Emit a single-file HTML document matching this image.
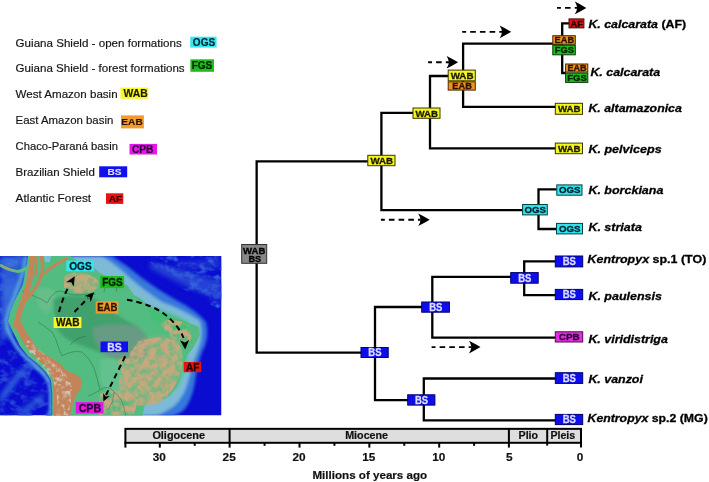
<!DOCTYPE html><html><head><meta charset="utf-8"><style>
html,body{margin:0;padding:0;background:#fff;}
body{width:709px;height:482px;overflow:hidden;position:relative;font-family:"Liberation Sans", sans-serif;}
svg{position:absolute;left:0;top:0;filter:blur(0.3px);}
text{font-family:"Liberation Sans", sans-serif;}
</style></head><body>
<svg width="709" height="482" viewBox="0 0 709 482">
<defs>
<clipPath id="mc"><rect x="0" y="256" width="221.5" height="159.5"/></clipPath>
<filter id="bl" x="-10%" y="-10%" width="120%" height="120%"><feGaussianBlur stdDeviation="0.6"/></filter>
<filter id="bl2" x="-20%" y="-20%" width="140%" height="140%"><feGaussianBlur stdDeviation="1.5"/></filter>
<filter id="mottle" x="0" y="0" width="1" height="1" color-interpolation-filters="sRGB">
  <feTurbulence type="fractalNoise" baseFrequency="0.16" numOctaves="3" seed="7" result="n"/>
  <feColorMatrix in="n" type="matrix" values="0 0 0 0 0.78  0 0 0 0 0.66  0 0 0 0 0.49  3.2 0 0 0 -1.0" result="c"/>
  <feComposite in="c" in2="SourceGraphic" operator="in" result="d"/>
  <feGaussianBlur in="d" stdDeviation="0.4"/>
</filter>
<filter id="mottle2" x="0" y="0" width="1" height="1" color-interpolation-filters="sRGB">
  <feTurbulence type="fractalNoise" baseFrequency="0.22" numOctaves="3" seed="11" result="n"/>
  <feColorMatrix in="n" type="matrix" values="0 0 0 0 0.82  0 0 0 0 0.76  0 0 0 0 0.72  3.5 0 0 0 -1.6" result="c"/>
  <feComposite in="c" in2="SourceGraphic" operator="in" result="d"/>
  <feGaussianBlur in="d" stdDeviation="0.35"/>
</filter>
<filter id="mottle3" x="0" y="0" width="1" height="1" color-interpolation-filters="sRGB">
  <feTurbulence type="fractalNoise" baseFrequency="0.09 0.14" numOctaves="3" seed="3" result="n"/>
  <feColorMatrix in="n" type="matrix" values="0 0 0 0 0.20  0 0 0 0 0.38  0 0 0 0 0.86  3.5 0 0 0 -1.6" result="c"/>
  <feComposite in="c" in2="SourceGraphic" operator="in" result="d"/>
  <feGaussianBlur in="d" stdDeviation="0.6"/>
</filter>
<filter id="bl3" x="-20%" y="-20%" width="140%" height="140%"><feGaussianBlur stdDeviation="2.5"/></filter>
</defs>
<g clip-path="url(#mc)">
<rect x="0" y="256" width="221.5" height="159.5" fill="#0a0cd0"/>
<g filter="url(#bl3)">
<!-- Caribbean + north Pacific mid-blue -->
<path d="M0,256 L32,256 L30,272 L24,290 L17,305 L12,320 L14,334 L0,342 Z" fill="#2a52d6"/>
<path d="M6,276 Q16,274 22,284 Q18,300 12,312 Q6,318 4,300 Z" fill="#3466da" opacity="0.8"/>
<path d="M2,258 L22,258 L16,266 L4,268 Z" fill="#3a78dc"/>
<path d="M3,285 Q10,282 14,290 Q10,300 5,300 Z" fill="#3a74dc" opacity="0.8"/>
<path d="M4,305 Q8,300 10,310 Q7,318 3,314 Z" fill="#3a74dc" opacity="0.7"/>
<!-- Atlantic NE patches -->
<path d="M150,262 Q170,266 190,272 L221,282 L221,300 Q205,294 190,288 Q168,278 150,268 Z" fill="#2a50d6" opacity="0.8"/>
<path d="M175,260 Q195,262 210,258 L221,258 L221,268 Q200,270 180,266 Z" fill="#2a50d6" opacity="0.5"/>
<!-- south Pacific ridges -->
<path d="M28,368 Q20,378 10,392 Q4,400 0,404 L0,396 Q10,380 24,366 Z" fill="#2f66d8"/>
<path d="M44,392 Q36,398 28,404 Q20,410 14,416 L24,416 Q34,408 44,398 Z" fill="#2f66d8" opacity="0.8"/>
</g>
<g filter="url(#mottle3)">
<path d="M150,256 L221.5,256 L221.5,310 Q200,300 185,290 Q165,276 150,262 Z" fill="#000"/>
<path d="M0,340 L30,360 L50,380 L52,416 L0,416 Z" fill="#000" opacity="0.7"/>
<path d="M0,256 L30,256 L22,290 L12,320 L0,330 Z" fill="#000"/>
</g>
<g filter="url(#bl2)">
<!-- Atlantic outer shelf (mid blue) -->
<path d="M70,256 L112,256 Q128,266 142,278 Q158,290 176,300 Q196,310 206,322 Q210,338 202,352 Q197,366 195,382 Q192,400 184,410 Q176,416 170,416 L130,416 Z" fill="#3677dc"/>
<!-- Atlantic inner shelf (light) -->
<path d="M68,256 L102,256 Q118,266 130,278 Q146,292 162,302 Q184,310 200,321 Q204,336 198,350 Q192,364 189,378 Q185,396 174,406 Q164,413 156,416 L130,416 Z" fill="#7cbad6"/>
<!-- Pacific narrow shelf -->
<path d="M27,256 L25,270 L21,283 L16,296 L11,309 L7.5,320 L9,328 L13,337 L19,347 L27,356 L37,364 L45,372 L50,380 L52,392 L52,416 L49,416 L49,392 L47,381 L41,374 L33,366 L24,358 L16,349 L10,339 L5.5,329 L4.5,320 L8,308 L13,295 L18,282 L22,269 L24,256 Z" fill="#5aa8e0"/>
</g>
<path d="M43,256 L52,256 L51,263 L44,263 Z" fill="#7cc0d8" filter="url(#bl)"/>
<!-- Panama -->
<path d="M0,265 Q10,271 18,271.5 Q26,270 31,264" fill="none" stroke="#58bf80" stroke-width="3" filter="url(#bl)"/>
<path d="M1,265.5 Q9,269.5 15,270" fill="none" stroke="#c8905c" stroke-width="1.1" filter="url(#bl)"/>
<!-- Land -->
<g filter="url(#bl)">
<path d="M28,256 L44,256 L45,262 L50,262 L51,256 L70,256 L80,262 L93,267 L100,273 L112,279 L127,285 L134,295 L140,298 L149,306 L160,313 L169,317 L180,319.7 L190.5,323.7 L197.6,326 L199.6,330 L199.6,335.5 L196.2,342.2 L192.2,349 L188,354 L185.5,360 L183,367 L180,378 L176.7,386.7 L170.3,395.5 L161.5,400.6 L150.8,402 L144.8,405.3 L142.3,416 L52.2,416 L52.2,392 L50.8,380 L45.8,372 L37.8,364 L27.9,356 L20,346 L15,336 L11,328 L8,321 L8.6,319 L10.7,310.4 L14.3,301.8 L18.6,293.2 L22.9,284.6 L24.3,277.5 L25,270 L27,264 Z" fill="#52bc80"/>
</g>
<g filter="url(#bl2)">
<!-- light green-grey patches -->
<path d="M36,290 Q48,284 56,292 Q54,308 46,314 Q36,308 36,290 Z" fill="#74bf94" opacity="0.55"/>
<path d="M100,360 Q115,356 125,366 Q130,385 120,396 Q105,394 100,380 Z" fill="#6ec596" opacity="0.6"/>
<path d="M150,306 Q170,312 188,322 Q192,330 180,332 Q160,326 150,318 Z" fill="#3fc070" opacity="0.8"/>
<path d="M178,340 Q190,345 186,365 Q182,380 176,390 Q170,385 172,370 Q174,352 178,340 Z" fill="#4cc080" opacity="0.8"/>
<!-- Amazon darker -->
<path d="M53,300 Q60,295 75,296 Q90,295 100,302 Q112,312 125,320 Q140,326 148,338 Q148,352 140,358 Q125,361 110,356 Q95,350 80,345 Q65,340 58,330 Q54,315 53,300 Z" fill="#3c9a68" opacity="0.8"/>
<path d="M92,328 Q118,320 140,328 Q151,340 146,357 Q128,363 108,357 Q95,348 92,328 Z" fill="#6c9a86" opacity="0.9"/>
<!-- Brazilian highlands base tint -->
<path d="M140,340 Q160,332 176,340 Q184,352 180,372 Q174,390 162,400 Q148,406 132,404 Q120,396 120,380 Q124,360 140,340 Z" fill="#a8b080" opacity="0.45"/>
<!-- Guiana highlands -->
<path d="M66,278 Q72,272 85,274 Q96,278 98,284 Q95,292 85,292 Q72,293 66,286 Z" fill="#c8a478" opacity="0.5"/>
</g>
<g filter="url(#mottle)">
<path d="M138,342 Q158,334 176,340 Q186,352 181,372 Q175,390 163,401 Q148,407 130,405 Q118,396 119,380 Q124,360 138,342 Z" fill="#000"/>
<path d="M160,322 Q174,316 190,326 Q196,336 186,344 Q170,342 160,322 Z" fill="#000"/>
<path d="M100,394 Q116,386 134,396 Q140,410 130,416 L98,416 Z" fill="#000"/>
<path d="M118,360 Q132,352 142,362 Q142,376 134,384 Q122,380 118,360 Z" fill="#000"/>
</g>
<g filter="url(#mottle)">
<path d="M64,277 Q70,271 84,273 Q97,277 100,284 Q96,293 84,293 Q70,294 64,287 Z" fill="#000"/>
</g>
<g fill="none" stroke="#2d5d40" stroke-width="0.6" opacity="0.7" stroke-linejoin="round">
<path d="M22,291 Q30,294 36,297 Q42,299 47,303"/>
<path d="M47,303 Q50,296 56,292 Q60,290 64,292"/>
<path d="M64,292 Q72,296 80,295 Q88,293 96,294"/>
<path d="M38,322 Q46,327 52,332 Q56,338 58,346 Q60,352 62,356"/>
<path d="M62,356 Q72,350 82,352 Q90,358 94,368 Q98,380 100,390"/>
<path d="M100,390 Q108,384 114,392 Q114,402 108,410"/>
<path d="M88,396 Q94,394 100,390"/>
<path d="M104,292 Q105,284 108,280"/>
<path d="M116,292 Q117,285 119,280"/>
<path d="M70,345 Q76,338 86,336"/>
<path d="M114,392 Q122,398 124,408 L126,416"/>
</g>
<!-- Andes -->
<g filter="url(#bl)">
<path d="M15,320 L16,328 L20,336 L26,346 L34,356 L43,364 L50,372 L53,380 L54,392 L54,416 L70,416 L73,404 L76,396 L81,388 L82,380 L78,376 L66,370 L58,362 L48,356 L38,350 L33,342 L26,332 L20,320 Z" fill="#c4845a"/>
<path d="M16,326 Q19,312 22.5,303 Q26,294 28.6,284.6 Q31,275 31.5,266 Q32,260 33,256" fill="none" stroke="#c4845a" stroke-width="5.5" stroke-linecap="round"/>
<path d="M41,256 Q43.5,264 42,274 Q39,283 34,290 Q30,295 26,300" fill="none" stroke="#c4845a" stroke-width="3.4" stroke-linecap="round"/>
<path d="M36,258 Q37,266 35.5,275" fill="none" stroke="#c4845a" stroke-width="2.5" stroke-linecap="round"/>
<path d="M45.5,273 Q50,268 55,265 Q60,262 66,259" fill="none" stroke="#c4845a" stroke-width="2.8" stroke-linecap="round"/>
</g>
<g filter="url(#mottle2)">
<path d="M28,340 Q42,352 54,362 Q66,372 72,386 Q72,400 68,416 L56,416 Q58,400 56,388 Q50,374 40,364 Q30,354 24,344 Z" fill="#000"/>
</g>
</g>

<path d="M59,312 Q63,297 69,286" fill="none" stroke="#000" stroke-width="2" stroke-dasharray="5.5 4"/>
<path d="M74.80,276.30 L73.69,286.71 L71.28,282.17 L66.14,282.18 Z" fill="#000"/>
<path d="M74.5,312 L88,298" fill="none" stroke="#000" stroke-width="2" stroke-dasharray="5.5 4"/>
<path d="M94.20,292.20 L90.67,302.06 L89.40,297.08 L84.40,295.88 Z" fill="#000"/>
<path d="M127,299.7 Q150,304 163,313 Q178,324 183.5,338" fill="none" stroke="#000" stroke-width="2" stroke-dasharray="5.5 4"/>
<path d="M185.20,349.40 L180.00,340.21 L184.76,342.57 L189.19,339.63 Z" fill="#000"/>
<path d="M125.2,356.3 L106,395" fill="none" stroke="#000" stroke-width="2" stroke-dasharray="5.5 4"/>
<path d="M103.40,401.40 L103.19,393.08 L105.61,396.47 L109.76,396.03 Z" fill="#000"/>
<rect x="66.3" y="260.6" width="27.60" height="10.70" fill="#34e6ee"/>
<text x="80.40" y="269.73" text-anchor="middle" font-size="10.8" font-weight="bold" fill="#002030" stroke="#002030" stroke-width="0.3" textLength="22.5" lengthAdjust="spacingAndGlyphs">OGS</text>
<rect x="100.2" y="276" width="23.90" height="12.10" fill="#1fbb1f"/>
<text x="112.45" y="285.83" text-anchor="middle" font-size="10.8" font-weight="bold" fill="#002000" stroke="#002000" stroke-width="0.3" textLength="20.5" lengthAdjust="spacingAndGlyphs">FGS</text>
<rect x="95.7" y="301.2" width="22.60" height="12.40" fill="#f39a2c"/>
<text x="107.30" y="311.18" text-anchor="middle" font-size="10.8" font-weight="bold" fill="#2a1500" stroke="#2a1500" stroke-width="0.3" textLength="20.2" lengthAdjust="spacingAndGlyphs">EAB</text>
<rect x="53.6" y="317" width="27.80" height="11.00" fill="#f7f72e"/>
<text x="67.80" y="326.28" text-anchor="middle" font-size="10.8" font-weight="bold" fill="#1a1a00" stroke="#1a1a00" stroke-width="0.3" textLength="23.6" lengthAdjust="spacingAndGlyphs">WAB</text>
<rect x="100.5" y="341.5" width="27.50" height="10.70" fill="#1010ee"/>
<text x="114.55" y="350.63" text-anchor="middle" font-size="10.8" font-weight="bold" fill="#dcdcff" stroke="#dcdcff" stroke-width="0.3" textLength="14.5" lengthAdjust="spacingAndGlyphs">BS</text>
<rect x="183.7" y="362" width="17.50" height="10.20" fill="#e41414"/>
<text x="192.75" y="370.88" text-anchor="middle" font-size="10.8" font-weight="bold" fill="#2a0000" stroke="#2a0000" stroke-width="0.3" textLength="13.5" lengthAdjust="spacingAndGlyphs">AF</text>
<rect x="75.7" y="402.1" width="27.80" height="11.40" fill="#e416ea"/>
<text x="89.90" y="411.58" text-anchor="middle" font-size="10.8" font-weight="bold" fill="#2a0030" stroke="#2a0030" stroke-width="0.3" textLength="22.5" lengthAdjust="spacingAndGlyphs">CPB</text>
<text x="15.6" y="46.70" font-size="11.6" fill="#151515" stroke="#151515" stroke-width="0.18" textLength="166.2" lengthAdjust="spacingAndGlyphs">Guiana Shield - open formations</text>
<rect x="190.2" y="36.7" width="26.40" height="10.90" fill="#34e6ee"/>
<text x="204.00" y="46.05" text-anchor="middle" font-size="10.2" font-weight="bold" fill="#002030" stroke="#002030" stroke-width="0.15" textLength="22.3" lengthAdjust="spacingAndGlyphs">OGS</text>
<text x="15.6" y="72.40" font-size="11.6" fill="#151515" stroke="#151515" stroke-width="0.18" textLength="169.0" lengthAdjust="spacingAndGlyphs">Guiana Shield - forest formations</text>
<rect x="190.4" y="59.3" width="23.60" height="12.50" fill="#1fbb1f"/>
<text x="202.00" y="69.25" text-anchor="middle" font-size="10.0" font-weight="bold" fill="#002000" stroke="#002000" stroke-width="0.15" textLength="20.7" lengthAdjust="spacingAndGlyphs">FGS</text>
<text x="15.6" y="97.90" font-size="11.6" fill="#151515" stroke="#151515" stroke-width="0.18" textLength="102.0" lengthAdjust="spacingAndGlyphs">West Amazon basin</text>
<rect x="120.5" y="87.6" width="27.80" height="11.20" fill="#f7f72e"/>
<text x="135.60" y="96.80" text-anchor="middle" font-size="10.0" font-weight="bold" fill="#1a1a00" stroke="#1a1a00" stroke-width="0.15" textLength="24.2" lengthAdjust="spacingAndGlyphs">WAB</text>
<text x="15.6" y="124.40" font-size="11.6" fill="#151515" stroke="#151515" stroke-width="0.18" textLength="97.7" lengthAdjust="spacingAndGlyphs">East Amazon basin</text>
<rect x="121.0" y="115.4" width="22.90" height="13.00" fill="#f39a2c"/>
<text x="132.05" y="125.20" text-anchor="middle" font-size="9.8" font-weight="bold" fill="#2a1500" stroke="#2a1500" stroke-width="0.15" textLength="21.4" lengthAdjust="spacingAndGlyphs">EAB</text>
<text x="15.6" y="150.10" font-size="11.6" fill="#151515" stroke="#151515" stroke-width="0.18" textLength="102.3" lengthAdjust="spacingAndGlyphs">Chaco-Paraná basin</text>
<rect x="129.5" y="143.9" width="27.50" height="10.60" fill="#e416ea"/>
<text x="142.65" y="152.80" text-anchor="middle" font-size="10.0" font-weight="bold" fill="#2a0030" stroke="#2a0030" stroke-width="0.15" textLength="21.5" lengthAdjust="spacingAndGlyphs">CPB</text>
<text x="15.6" y="176.20" font-size="11.6" fill="#151515" stroke="#151515" stroke-width="0.18" textLength="79.2" lengthAdjust="spacingAndGlyphs">Brazilian Shield</text>
<rect x="99.2" y="166.3" width="28.00" height="11.00" fill="#1010ee"/>
<text x="114.60" y="175.10" text-anchor="middle" font-size="9.9" font-weight="bold" fill="#dcdcff" stroke="#dcdcff" stroke-width="0.15" textLength="14" lengthAdjust="spacingAndGlyphs">BS</text>
<text x="15.6" y="202.40" font-size="11.6" fill="#151515" stroke="#151515" stroke-width="0.18" textLength="75.5" lengthAdjust="spacingAndGlyphs">Atlantic Forest</text>
<rect x="106" y="193.3" width="17.30" height="10.60" fill="#e41414"/>
<text x="115.50" y="202.20" text-anchor="middle" font-size="9.9" font-weight="bold" fill="#2a0000" stroke="#2a0000" stroke-width="0.15" textLength="13.4" lengthAdjust="spacingAndGlyphs">AF</text>
<path d="M381,161.3 L256.65,161.3 L256.65,352.6 L375,352.6" fill="none" stroke="#000" stroke-width="2.3" stroke-linejoin="miter" stroke-linecap="butt"/>
<path d="M430,112.8 L381.4,112.8 L381.4,210.1 L538.5,210.1" fill="none" stroke="#000" stroke-width="2.3" stroke-linejoin="miter" stroke-linecap="butt"/>
<path d="M463,76 L430,76 L430,148.4 L556,148.4" fill="none" stroke="#000" stroke-width="2.3" stroke-linejoin="miter" stroke-linecap="butt"/>
<path d="M562,43.6 L463.1,43.6 L463.1,106.9 L556,106.9" fill="none" stroke="#000" stroke-width="2.3" stroke-linejoin="miter" stroke-linecap="butt"/>
<path d="M569,23.4 L562.2,23.4 L562.2,73 L566,73" fill="none" stroke="#000" stroke-width="2.3" stroke-linejoin="miter" stroke-linecap="butt"/>
<path d="M556.5,189.4 L538.5,189.4 L538.5,229 L556.5,229" fill="none" stroke="#000" stroke-width="2.3" stroke-linejoin="miter" stroke-linecap="butt"/>
<path d="M432,307 L375,307 L375,400.2 L424,400.2" fill="none" stroke="#000" stroke-width="2.3" stroke-linejoin="miter" stroke-linecap="butt"/>
<path d="M524,276.9 L432.3,276.9 L432.3,337.7 L556,337.7" fill="none" stroke="#000" stroke-width="2.3" stroke-linejoin="miter" stroke-linecap="butt"/>
<path d="M556,261.3 L524.2,261.3 L524.2,295.2 L556,295.2" fill="none" stroke="#000" stroke-width="2.3" stroke-linejoin="miter" stroke-linecap="butt"/>
<path d="M556,378.5 L423.8,378.5 L423.8,420.3 L556,420.3" fill="none" stroke="#000" stroke-width="2.3" stroke-linejoin="miter" stroke-linecap="butt"/>
<line x1="557" y1="7.9" x2="577.3" y2="7.9" stroke="#000" stroke-width="1.9" stroke-dasharray="5.6 4.1" stroke-dashoffset="1.7"/>
<path d="M586.3,7.9 Q580.3,4.300000000000001 574.8,1.6000000000000005 Q577.0999999999999,5.4 577.0999999999999,7.9 Q577.0999999999999,10.4 574.8,14.2 Q580.3,11.5 586.3,7.9 Z" fill="#000"/>
<line x1="462.2" y1="31.85" x2="502.2" y2="31.85" stroke="#000" stroke-width="1.9" stroke-dasharray="5.6 4.1" stroke-dashoffset="1.7"/>
<path d="M511.2,31.85 Q505.2,28.25 499.7,25.55 Q502.0,29.35 502.0,31.85 Q502.0,34.35 499.7,38.15 Q505.2,35.45 511.2,31.85 Z" fill="#000"/>
<line x1="428.1" y1="62.3" x2="449.1" y2="62.3" stroke="#000" stroke-width="1.9" stroke-dasharray="5.6 4.1" stroke-dashoffset="1.7"/>
<path d="M458.1,62.3 Q452.1,58.699999999999996 446.6,56.0 Q448.90000000000003,59.8 448.90000000000003,62.3 Q448.90000000000003,64.8 446.6,68.6 Q452.1,65.89999999999999 458.1,62.3 Z" fill="#000"/>
<line x1="380.9" y1="219.7" x2="420.7" y2="219.7" stroke="#000" stroke-width="1.9" stroke-dasharray="5.6 4.1" stroke-dashoffset="1.7"/>
<path d="M429.7,219.7 Q423.7,216.1 418.2,213.39999999999998 Q420.5,217.2 420.5,219.7 Q420.5,222.2 418.2,226.0 Q423.7,223.29999999999998 429.7,219.7 Z" fill="#000"/>
<line x1="431.6" y1="347.1" x2="471.5" y2="347.1" stroke="#000" stroke-width="1.9" stroke-dasharray="5.6 4.1" stroke-dashoffset="1.7"/>
<path d="M480.5,347.1 Q474.5,343.5 469.0,340.8 Q471.3,344.6 471.3,347.1 Q471.3,349.6 469.0,353.40000000000003 Q474.5,350.70000000000005 480.5,347.1 Z" fill="#000"/>
<rect x="241.7" y="244.5" width="25" height="18.8" fill="#878787" stroke="#333" stroke-width="1"/>
<text x="254.2" y="253.6" text-anchor="middle" font-size="9.4" font-weight="bold" fill="#000" stroke="#000" stroke-width="0.3" textLength="22.2" lengthAdjust="spacingAndGlyphs">WAB</text>
<text x="254.8" y="261.9" text-anchor="middle" font-size="9.4" font-weight="bold" fill="#000" stroke="#000" stroke-width="0.3" textLength="12.8" lengthAdjust="spacingAndGlyphs">BS</text>
<rect x="367.80" y="155.30" width="27.20" height="10.40" fill="#f5f522" stroke="#3a3a00" stroke-width="1"/><text x="381.70" y="163.94" text-anchor="middle" font-size="9.6" font-weight="bold" fill="#1a1a00" stroke="#1a1a00" stroke-width="0.3" textLength="22.6" lengthAdjust="spacingAndGlyphs">WAB</text>
<rect x="413.00" y="108.00" width="27.00" height="10.30" fill="#f5f522" stroke="#3a3a00" stroke-width="1"/><text x="426.80" y="116.59" text-anchor="middle" font-size="9.6" font-weight="bold" fill="#1a1a00" stroke="#1a1a00" stroke-width="0.3" textLength="22.6" lengthAdjust="spacingAndGlyphs">WAB</text>
<rect x="448.20" y="70.10" width="27.10" height="10.70" fill="#f5f522" stroke="#3a3a00" stroke-width="1"/><text x="462.05" y="78.89" text-anchor="middle" font-size="9.6" font-weight="bold" fill="#1a1a00" stroke="#1a1a00" stroke-width="0.3" textLength="22.8" lengthAdjust="spacingAndGlyphs">WAB</text>
<rect x="448.20" y="81.80" width="27.10" height="8.30" fill="#f0921f" stroke="#4a2a00" stroke-width="1"/><text x="462.05" y="89.10" text-anchor="middle" font-size="8.8" font-weight="bold" fill="#2a1500" stroke="#2a1500" stroke-width="0.3" textLength="19.6" lengthAdjust="spacingAndGlyphs">EAB</text>
<rect x="552.80" y="35.70" width="22.50" height="8.60" fill="#f0921f" stroke="#4a2a00" stroke-width="1"/><text x="564.35" y="43.01" text-anchor="middle" font-size="8.4" font-weight="bold" fill="#2a1500" stroke="#2a1500" stroke-width="0.3" textLength="19.6" lengthAdjust="spacingAndGlyphs">EAB</text>
<rect x="552.80" y="45.30" width="22.50" height="9.50" fill="#1fbf1f" stroke="#0a3a0a" stroke-width="1"/><text x="564.35" y="53.24" text-anchor="middle" font-size="8.9" font-weight="bold" fill="#002000" stroke="#002000" stroke-width="0.3" textLength="19.2" lengthAdjust="spacingAndGlyphs">FGS</text>
<rect x="569.00" y="18.90" width="14.90" height="9.00" fill="#dc1616" stroke="#500808" stroke-width="1"/><text x="576.75" y="26.62" text-anchor="middle" font-size="9.0" font-weight="bold" fill="#2a0000" stroke="#2a0000" stroke-width="0.3" textLength="12.4" lengthAdjust="spacingAndGlyphs">AF</text>
<rect x="565.60" y="64.00" width="22.20" height="8.10" fill="#f0921f" stroke="#4a2a00" stroke-width="1"/><text x="577.00" y="71.06" text-anchor="middle" font-size="8.4" font-weight="bold" fill="#2a1500" stroke="#2a1500" stroke-width="0.3" textLength="19.2" lengthAdjust="spacingAndGlyphs">EAB</text>
<rect x="565.60" y="73.10" width="22.20" height="9.30" fill="#1fbf1f" stroke="#0a3a0a" stroke-width="1"/><text x="577.00" y="80.94" text-anchor="middle" font-size="8.9" font-weight="bold" fill="#002000" stroke="#002000" stroke-width="0.3" textLength="19.6" lengthAdjust="spacingAndGlyphs">FGS</text>
<rect x="555.30" y="103.30" width="27.20" height="11.00" fill="#f5f522" stroke="#3a3a00" stroke-width="1"/><text x="569.20" y="112.24" text-anchor="middle" font-size="9.6" font-weight="bold" fill="#1a1a00" stroke="#1a1a00" stroke-width="0.3" textLength="22.6" lengthAdjust="spacingAndGlyphs">WAB</text>
<rect x="555.30" y="143.10" width="27.20" height="10.60" fill="#f5f522" stroke="#3a3a00" stroke-width="1"/><text x="569.20" y="151.84" text-anchor="middle" font-size="9.6" font-weight="bold" fill="#1a1a00" stroke="#1a1a00" stroke-width="0.3" textLength="22.6" lengthAdjust="spacingAndGlyphs">WAB</text>
<rect x="522.60" y="204.50" width="24.70" height="10.40" fill="#30e4ec" stroke="#0a4040" stroke-width="1"/><text x="535.25" y="213.14" text-anchor="middle" font-size="9.6" font-weight="bold" fill="#002030" stroke="#002030" stroke-width="0.3" textLength="21.5" lengthAdjust="spacingAndGlyphs">OGS</text>
<rect x="556.80" y="184.90" width="25.20" height="10.30" fill="#30e4ec" stroke="#0a4040" stroke-width="1"/><text x="569.70" y="193.49" text-anchor="middle" font-size="9.6" font-weight="bold" fill="#002030" stroke="#002030" stroke-width="0.3" textLength="21.5" lengthAdjust="spacingAndGlyphs">OGS</text>
<rect x="556.50" y="223.40" width="26.00" height="10.50" fill="#30e4ec" stroke="#0a4040" stroke-width="1"/><text x="569.80" y="232.09" text-anchor="middle" font-size="9.6" font-weight="bold" fill="#002030" stroke="#002030" stroke-width="0.3" textLength="21.5" lengthAdjust="spacingAndGlyphs">OGS</text>
<rect x="361.00" y="347.50" width="27.20" height="10.00" fill="#0e0eec" stroke="#000070" stroke-width="1"/><text x="374.90" y="356.15" text-anchor="middle" font-size="10.2" font-weight="bold" fill="#dcdcff" stroke="#dcdcff" stroke-width="0.3" textLength="13.2" lengthAdjust="spacingAndGlyphs">BS</text>
<rect x="421.70" y="302.00" width="27.70" height="10.20" fill="#0e0eec" stroke="#000070" stroke-width="1"/><text x="435.85" y="310.75" text-anchor="middle" font-size="10.2" font-weight="bold" fill="#dcdcff" stroke="#dcdcff" stroke-width="0.3" textLength="13.2" lengthAdjust="spacingAndGlyphs">BS</text>
<rect x="510.70" y="272.60" width="27.50" height="10.60" fill="#0e0eec" stroke="#000070" stroke-width="1"/><text x="524.75" y="281.55" text-anchor="middle" font-size="10.2" font-weight="bold" fill="#dcdcff" stroke="#dcdcff" stroke-width="0.3" textLength="13.2" lengthAdjust="spacingAndGlyphs">BS</text>
<rect x="407.70" y="394.80" width="27.20" height="10.30" fill="#0e0eec" stroke="#000070" stroke-width="1"/><text x="421.60" y="403.60" text-anchor="middle" font-size="10.2" font-weight="bold" fill="#dcdcff" stroke="#dcdcff" stroke-width="0.3" textLength="13.2" lengthAdjust="spacingAndGlyphs">BS</text>
<rect x="555.30" y="256.00" width="27.40" height="10.90" fill="#0e0eec" stroke="#000070" stroke-width="1"/><text x="569.30" y="265.10" text-anchor="middle" font-size="10.2" font-weight="bold" fill="#dcdcff" stroke="#dcdcff" stroke-width="0.3" textLength="13.2" lengthAdjust="spacingAndGlyphs">BS</text>
<rect x="555.30" y="289.40" width="27.40" height="10.20" fill="#0e0eec" stroke="#000070" stroke-width="1"/><text x="569.30" y="298.15" text-anchor="middle" font-size="10.2" font-weight="bold" fill="#dcdcff" stroke="#dcdcff" stroke-width="0.3" textLength="13.2" lengthAdjust="spacingAndGlyphs">BS</text>
<rect x="555.30" y="331.80" width="27.40" height="10.20" fill="#e22ee2" stroke="#500850" stroke-width="1"/><text x="569.30" y="340.34" text-anchor="middle" font-size="9.6" font-weight="bold" fill="#2a0030" stroke="#2a0030" stroke-width="0.3" textLength="21" lengthAdjust="spacingAndGlyphs">CPB</text>
<rect x="555.30" y="372.70" width="27.40" height="10.70" fill="#0e0eec" stroke="#000070" stroke-width="1"/><text x="569.30" y="381.70" text-anchor="middle" font-size="10.2" font-weight="bold" fill="#dcdcff" stroke="#dcdcff" stroke-width="0.3" textLength="13.2" lengthAdjust="spacingAndGlyphs">BS</text>
<rect x="555.30" y="414.40" width="27.40" height="10.20" fill="#0e0eec" stroke="#000070" stroke-width="1"/><text x="569.30" y="423.15" text-anchor="middle" font-size="10.2" font-weight="bold" fill="#dcdcff" stroke="#dcdcff" stroke-width="0.3" textLength="13.2" lengthAdjust="spacingAndGlyphs">BS</text>
<text x="588.4" y="28.1" font-size="11.6" font-weight="bold" fill="#000" stroke="#000" stroke-width="0.3" textLength="97.8" lengthAdjust="spacingAndGlyphs"><tspan font-style="italic">K. calcarata</tspan><tspan font-style="normal"> (AF)</tspan></text>
<text x="590.4" y="75.5" font-size="11.6" font-weight="bold" fill="#000" stroke="#000" stroke-width="0.3" textLength="69.8" lengthAdjust="spacingAndGlyphs"><tspan font-style="italic">K. calcarata</tspan></text>
<text x="588.4" y="111.9" font-size="11.6" font-weight="bold" fill="#000" stroke="#000" stroke-width="0.3" textLength="93.5" lengthAdjust="spacingAndGlyphs"><tspan font-style="italic">K. altamazonica</tspan></text>
<text x="588.4" y="152.6" font-size="11.6" font-weight="bold" fill="#000" stroke="#000" stroke-width="0.3" textLength="73.3" lengthAdjust="spacingAndGlyphs"><tspan font-style="italic">K. pelviceps</tspan></text>
<text x="588.4" y="193.8" font-size="11.6" font-weight="bold" fill="#000" stroke="#000" stroke-width="0.3" textLength="75" lengthAdjust="spacingAndGlyphs"><tspan font-style="italic">K. borckiana</tspan></text>
<text x="588.4" y="231.1" font-size="11.6" font-weight="bold" fill="#000" stroke="#000" stroke-width="0.3" textLength="53.5" lengthAdjust="spacingAndGlyphs"><tspan font-style="italic">K. striata</tspan></text>
<text x="587.5" y="263.2" font-size="11.6" font-weight="bold" fill="#000" stroke="#000" stroke-width="0.3" textLength="118.8" lengthAdjust="spacingAndGlyphs"><tspan font-style="italic">Kentropyx</tspan><tspan font-style="normal"> sp.1 (TO)</tspan></text>
<text x="588.4" y="299.9" font-size="11.6" font-weight="bold" fill="#000" stroke="#000" stroke-width="0.3" textLength="73.5" lengthAdjust="spacingAndGlyphs"><tspan font-style="italic">K. paulensis</tspan></text>
<text x="588.4" y="342.9" font-size="11.6" font-weight="bold" fill="#000" stroke="#000" stroke-width="0.3" textLength="79.5" lengthAdjust="spacingAndGlyphs"><tspan font-style="italic">K. viridistriga</tspan></text>
<text x="588.4" y="382.5" font-size="11.6" font-weight="bold" fill="#000" stroke="#000" stroke-width="0.3" textLength="54.5" lengthAdjust="spacingAndGlyphs"><tspan font-style="italic">K. vanzoi</tspan></text>
<text x="587.5" y="422.4" font-size="11.6" font-weight="bold" fill="#000" stroke="#000" stroke-width="0.3" textLength="120.3" lengthAdjust="spacingAndGlyphs"><tspan font-style="italic">Kentropyx</tspan><tspan font-style="normal"> sp.2 (MG)</tspan></text>
<rect x="125.4" y="428.85" width="455.6" height="13.95" fill="#dedede" stroke="#000" stroke-width="2"/>
<line x1="229.60" y1="428" x2="229.60" y2="443.8" stroke="#000" stroke-width="2"/>
<line x1="508.90" y1="428" x2="508.90" y2="443.8" stroke="#000" stroke-width="2"/>
<line x1="547.2" y1="428" x2="547.2" y2="445.6" stroke="#000" stroke-width="2"/>
<line x1="125.40" y1="442" x2="125.40" y2="447.6" stroke="#000" stroke-width="2"/>
<line x1="159.80" y1="442" x2="159.80" y2="447.6" stroke="#000" stroke-width="2"/>
<line x1="194.72" y1="442" x2="194.72" y2="445.8" stroke="#000" stroke-width="2"/>
<line x1="229.60" y1="442" x2="229.60" y2="447.6" stroke="#000" stroke-width="2"/>
<line x1="264.57" y1="442" x2="264.57" y2="445.8" stroke="#000" stroke-width="2"/>
<line x1="299.50" y1="442" x2="299.50" y2="447.6" stroke="#000" stroke-width="2"/>
<line x1="334.42" y1="442" x2="334.42" y2="445.8" stroke="#000" stroke-width="2"/>
<line x1="369.35" y1="442" x2="369.35" y2="447.6" stroke="#000" stroke-width="2"/>
<line x1="404.27" y1="442" x2="404.27" y2="445.8" stroke="#000" stroke-width="2"/>
<line x1="439.20" y1="442" x2="439.20" y2="447.6" stroke="#000" stroke-width="2"/>
<line x1="474.12" y1="442" x2="474.12" y2="445.8" stroke="#000" stroke-width="2"/>
<line x1="508.90" y1="442" x2="508.90" y2="447.6" stroke="#000" stroke-width="2"/>
<line x1="581.00" y1="442" x2="581.00" y2="447.6" stroke="#000" stroke-width="2"/>
<text x="159.30" y="461.1" text-anchor="middle" font-size="11.8" font-weight="bold" fill="#111" stroke="#111" stroke-width="0.2">30</text>
<text x="229.15" y="461.1" text-anchor="middle" font-size="11.8" font-weight="bold" fill="#111" stroke="#111" stroke-width="0.2">25</text>
<text x="299.00" y="461.1" text-anchor="middle" font-size="11.8" font-weight="bold" fill="#111" stroke="#111" stroke-width="0.2">20</text>
<text x="368.85" y="461.1" text-anchor="middle" font-size="11.8" font-weight="bold" fill="#111" stroke="#111" stroke-width="0.2">15</text>
<text x="438.70" y="461.1" text-anchor="middle" font-size="11.8" font-weight="bold" fill="#111" stroke="#111" stroke-width="0.2">10</text>
<text x="509.40" y="461.1" text-anchor="middle" font-size="11.8" font-weight="bold" fill="#111" stroke="#111" stroke-width="0.2">5</text>
<text x="580.00" y="461.1" text-anchor="middle" font-size="11.8" font-weight="bold" fill="#111" stroke="#111" stroke-width="0.2">0</text>
<text x="152.4" y="438.8" font-size="10.1" font-weight="bold" fill="#111" stroke="#111" stroke-width="0.2" textLength="52.6" lengthAdjust="spacingAndGlyphs">Oligocene</text>
<text x="345.2" y="439" font-size="10.1" font-weight="bold" fill="#111" stroke="#111" stroke-width="0.2" textLength="42.9" lengthAdjust="spacingAndGlyphs">Miocene</text>
<text x="518.5" y="439.2" font-size="10.1" font-weight="bold" fill="#111" stroke="#111" stroke-width="0.2" textLength="19.6" lengthAdjust="spacingAndGlyphs">Plio</text>
<text x="550.5" y="439.2" font-size="10.1" font-weight="bold" fill="#111" stroke="#111" stroke-width="0.2" textLength="24.7" lengthAdjust="spacingAndGlyphs">Pleis</text>
<text x="312.4" y="478.9" font-size="11.2" font-weight="bold" fill="#111" stroke="#111" stroke-width="0.2" textLength="114.8" lengthAdjust="spacingAndGlyphs">Millions of years ago</text>
</svg></body></html>
